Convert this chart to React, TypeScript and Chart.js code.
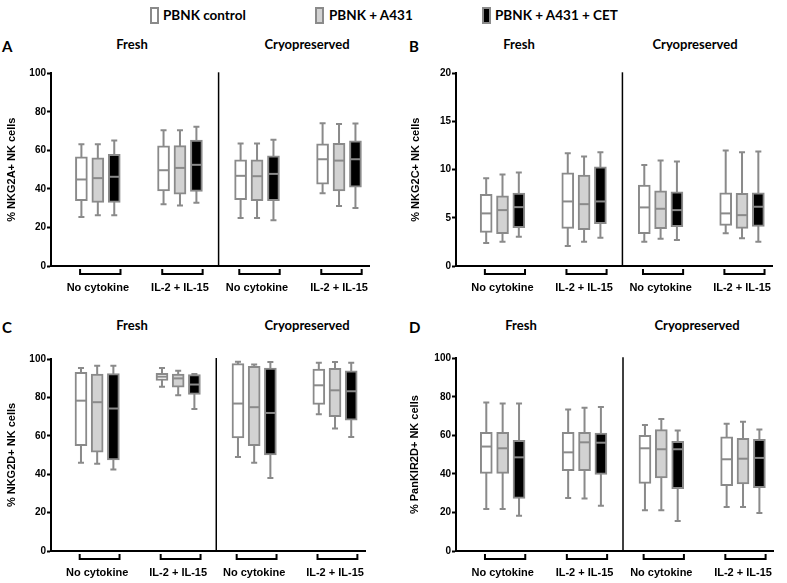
import React, { useEffect, useRef } from "react";
import { Chart, registerables } from "chart.js";
Chart.register(...registerables);

// ---------- data ----------
const groupLabels = ["No cytokine", "IL-2 + IL-15", "No cytokine", "IL-2 + IL-15"];
const seriesNames = ["PBNK control", "PBNK + A431", "PBNK + A431 + CET"];
const seriesFill = ["#ffffff", "#d2d2d2", "#000000"];
const sectionTitles = ["Fresh", "Cryopreserved"];

// Panel A – % NKG2A+ NK cells (order: Fresh NoCyt x3, Fresh IL2/15 x3, Cryo NoCyt x3, Cryo IL2/15 x3)
const nkg2aMin = [25.4, 26.4, 26.3, 32.1, 31.4, 32.8, 24.9, 24.9, 23.7, 37.8, 31.1, 30.1];
const nkg2aQ1 = [33.9, 33.0, 33.0, 39.0, 37.3, 38.7, 34.4, 33.9, 33.9, 42.5, 39.0, 40.9];
const nkg2aMed = [44.9, 45.6, 46.3, 49.7, 50.9, 52.5, 46.8, 46.6, 47.8, 55.4, 54.7, 55.4];
const nkg2aQ3 = [56.6, 56.1, 58.0, 62.3, 62.5, 65.3, 55.1, 55.1, 57.2, 63.4, 63.6, 64.9];
const nkg2aMax = [63.2, 63.2, 65.1, 70.5, 70.5, 72.2, 63.6, 63.6, 65.5, 74.1, 73.7, 73.9];

// Panel B – % NKG2C+ NK cells
const nkg2cMin = [2.38, 2.52, 3.04, 2.07, 2.52, 2.94, 2.52, 2.83, 2.69, 3.39, 2.87, 2.52];
const nkg2cQ1 = [3.49, 3.35, 3.97, 3.9, 3.77, 4.39, 3.35, 3.87, 4.08, 4.21, 3.9, 4.11];
const nkg2cMed = [5.46, 5.8, 6.11, 6.7, 6.42, 6.7, 6.08, 5.94, 5.8, 5.46, 5.28, 6.15];
const nkg2cQ3 = [7.43, 7.29, 7.56, 9.67, 9.43, 10.29, 8.39, 7.81, 7.7, 7.6, 7.53, 7.6];
const nkg2cMax = [9.12, 9.5, 9.71, 11.71, 11.36, 11.81, 10.47, 10.95, 10.85, 11.99, 11.81, 11.88];

// Panel C – % NKG2D+ NK cells
const nkg2dMin = [45.9, 45.4, 42.5, 85.6, 81.1, 74.0, 48.9, 45.9, 38.0, 71.2, 63.8, 59.4];
const nkg2dQ1 = [54.9, 51.5, 47.5, 88.8, 85.3, 81.5, 58.9, 54.9, 50.1, 76.4, 70.0, 68.1];
const nkg2dMed = [78.3, 77.5, 74.2, 90.8, 89.9, 86.7, 76.8, 74.9, 71.9, 86.3, 83.7, 83.2];
const nkg2dQ3 = [93.1, 92.2, 92.4, 92.5, 92.2, 91.9, 97.6, 96.2, 95.3, 94.8, 95.1, 93.9];
const nkg2dMax = [95.3, 96.5, 96.5, 95.3, 93.9, 92.2, 98.6, 97.1, 98.4, 98.1, 98.4, 98.1];

// Panel D – % PanKIR2D+ NK cells
const kirMin = [21.8, 21.8, 18.3, 27.5, 27.3, 23.5, 21.1, 21.1, 15.6, 22.8, 22.8, 19.7];
const kirQ1 = [40.3, 40.3, 27.3, 41.7, 41.7, 39.8, 35.1, 37.9, 32.4, 33.9, 34.8, 32.9];
const kirMed = [54.2, 53.3, 48.6, 51.2, 56.4, 56.2, 53.3, 52.8, 52.8, 47.6, 47.9, 48.3];
const kirQ3 = [61.6, 61.6, 57.4, 61.6, 61.6, 61.2, 60.0, 63.0, 56.9, 59.3, 58.5, 58.0];
const kirMax = [77.0, 76.6, 76.5, 73.4, 74.4, 74.7, 65.4, 68.5, 62.5, 66.1, 67.1, 63.0];

// ---------- layout constants ----------
const EDGE = "#8a8a8a";
const X_MAX = 19.4;
const groupCenters = [2.85, 7.85, 12.54, 17.53];
const boxOffsets = [-1, 0, 1];
const DIVIDER = 10.2;
const AXIS_FONT = "'Liberation Sans', Arial, sans-serif";
const HEAD_FONT = "Lato, 'Open Sans', sans-serif";

type PanelDef = {
  letter: string;
  yTitle: string;
  yMax: number;
  yStep: number;
  min: number[]; q1: number[]; med: number[]; q3: number[]; max: number[];
  left: number; top: number;
  areaLeft: number; areaTop: number; areaRight: number; areaBottom: number;
  titleCenterX: number;
  headY: number; letterX: number; freshX: number; cryoX: number;
};

const panels: PanelDef[] = [
  { letter: "A", yTitle: "% NKG2A+ NK cells", yMax: 100, yStep: 20,
    min: nkg2aMin, q1: nkg2aQ1, med: nkg2aMed, q3: nkg2aQ3, max: nkg2aMax,
    left: 0, top: 55, areaLeft: 51, areaTop: 73.3, areaRight: 382, areaBottom: 266.3,
    titleCenterX: 12, headY: 45, letterX: 2, freshX: 132, cryoX: 307 },
  { letter: "B", yTitle: "% NKG2C+ NK cells", yMax: 20, yStep: 5,
    min: nkg2cMin, q1: nkg2cQ1, med: nkg2cMed, q3: nkg2cQ3, max: nkg2cMax,
    left: 398, top: 55, areaLeft: 456, areaTop: 73.3, areaRight: 785, areaBottom: 266.3,
    titleCenterX: 416, headY: 45, letterX: 409, freshX: 519, cryoX: 695 },
  { letter: "C", yTitle: "% NKG2D+ NK cells", yMax: 100, yStep: 20,
    min: nkg2dMin, q1: nkg2dQ1, med: nkg2dMed, q3: nkg2dQ3, max: nkg2dMax,
    left: 0, top: 340, areaLeft: 51, areaTop: 359, areaRight: 378, areaBottom: 551.3,
    titleCenterX: 12, headY: 326, letterX: 2, freshX: 132, cryoX: 307 },
  { letter: "D", yTitle: "% PanKIR2D+ NK cells", yMax: 100, yStep: 20,
    min: kirMin, q1: kirQ1, med: kirMed, q3: kirQ3, max: kirMax,
    left: 398, top: 340, areaLeft: 456, areaTop: 358.3, areaRight: 786, areaBottom: 551,
    titleCenterX: 415, headY: 326, letterX: 409, freshX: 521, cryoX: 697 },
];

const X_AXIS_H = 30;
const PAD_R = 1;
const PAD_B = 2;

function BoxPanel({ p }: { p: PanelDef }) {
  const ref = useRef<HTMLCanvasElement | null>(null);
  const width = p.areaRight - p.left + PAD_R;
  const height = p.areaBottom - p.top + X_AXIS_H + PAD_B;

  useEffect(() => {
    if (!ref.current) return;
    const datasets = seriesNames.map((name, t) => ({
      label: name,
      data: groupCenters.map((gc, g) => ({ x: gc + boxOffsets[t], y: [p.q1[g * 3 + t], p.q3[g * 3 + t]] })),
      backgroundColor: seriesFill[t],
      borderColor: EDGE,
      borderWidth: 2,
      borderSkipped: false,
      barThickness: 12,
      grouped: false,
    }));

    const extras = {
      id: "boxExtras",
      beforeDatasetsDraw(chart: any) {
        const { ctx, scales } = chart;
        const xs = scales.x, ys = scales.y;
        ctx.save();
        ctx.strokeStyle = EDGE;
        ctx.lineWidth = 2;
        for (let g = 0; g < 4; g++) {
          for (let t = 0; t < 3; t++) {
            const i = g * 3 + t;
            const px = xs.getPixelForValue(groupCenters[g] + boxOffsets[t]);
            const yLo = ys.getPixelForValue(p.min[i]);
            const yHi = ys.getPixelForValue(p.max[i]);
            ctx.beginPath();
            ctx.moveTo(px, yHi);
            ctx.lineTo(px, yLo);
            ctx.moveTo(px - 3, yHi);
            ctx.lineTo(px + 3, yHi);
            ctx.moveTo(px - 3, yLo);
            ctx.lineTo(px + 3, yLo);
            ctx.stroke();
          }
        }
        ctx.restore();
      },
      afterDatasetsDraw(chart: any) {
        const { ctx, scales, chartArea } = chart;
        const xs = scales.x, ys = scales.y;
        ctx.save();
        // medians
        ctx.strokeStyle = EDGE;
        ctx.lineWidth = 2;
        for (let g = 0; g < 4; g++) {
          for (let t = 0; t < 3; t++) {
            const i = g * 3 + t;
            const px = xs.getPixelForValue(groupCenters[g] + boxOffsets[t]);
            const ym = ys.getPixelForValue(p.med[i]);
            ctx.beginPath();
            ctx.moveTo(px - 5, ym);
            ctx.lineTo(px + 5, ym);
            ctx.stroke();
          }
        }
        // divider between Fresh and Cryopreserved
        ctx.strokeStyle = "#000";
        ctx.lineWidth = 1.5;
        const dx = xs.getPixelForValue(DIVIDER);
        ctx.beginPath();
        ctx.moveTo(dx, chartArea.top - 1);
        ctx.lineTo(dx, chartArea.bottom);
        ctx.stroke();
        // brackets under each group
        ctx.lineWidth = 2;
        const y0 = chartArea.bottom + 3;
        const y1 = chartArea.bottom + 8;
        for (let g = 0; g < 4; g++) {
          const xl = xs.getPixelForValue(groupCenters[g] + 0.15 - 1.23);
          const xr = xs.getPixelForValue(groupCenters[g] + 0.15 + 1.23);
          ctx.beginPath();
          ctx.moveTo(xl, y0);
          ctx.lineTo(xl, y1);
          ctx.lineTo(xr, y1);
          ctx.lineTo(xr, y0);
          ctx.stroke();
        }
        ctx.restore();
      },
    };

    const chart = new Chart(ref.current, {
      type: "bar",
      data: { datasets: datasets as any },
      options: {
        animation: false,
        responsive: false,
        devicePixelRatio: 1,
        layout: { padding: { left: 0, top: p.areaTop - p.top, right: PAD_R, bottom: PAD_B } },
        plugins: { legend: { display: false }, tooltip: { enabled: false } },
        scales: {
          x: {
            type: "linear",
            min: 0,
            max: X_MAX,
            offset: false,
            afterBuildTicks: (scale: any) => {
              scale.ticks = groupCenters.map((v) => ({ value: v }));
            },
            afterFit: (scale: any) => {
              scale.height = X_AXIS_H;
            },
            grid: { display: false, drawTicks: false, offset: false },
            border: { display: true, color: "#000", width: 2 },
            ticks: {
              autoSkip: false,
              maxRotation: 0,
              padding: 15,
              color: "#000",
              font: { family: AXIS_FONT, size: 11, weight: "bold" },
              callback: (_v: any, i: number) => groupLabels[i],
            },
          },
          y: {
            type: "linear",
            min: 0,
            max: p.yMax,
            afterFit: (scale: any) => {
              scale.width = p.areaLeft - p.left;
            },
            grid: {
              display: true,
              drawOnChartArea: false,
              drawTicks: true,
              tickLength: 4,
              tickColor: "#000",
              tickWidth: 2,
            },
            border: { display: true, color: "#000", width: 2 },
            ticks: {
              stepSize: p.yStep,
              padding: 1,
              color: "#000",
              font: { family: AXIS_FONT, size: 10, weight: "bold" },
            },
            title: {
              display: true,
              text: p.yTitle,
              color: "#000",
              font: { family: AXIS_FONT, size: 11, weight: "bold" },
              padding: { top: p.titleCenterX - p.left - 6.6, bottom: 0 },
            },
          },
        },
      } as any,
      plugins: [extras],
    });
    return () => chart.destroy();
  }, [p]);

  return (
    <canvas
      ref={ref}
      width={width}
      height={height}
      style={{ position: "absolute", left: p.left, top: p.top, width, height }}
    />
  );
}

const headStyle: React.CSSProperties = {
  position: "absolute",
  fontFamily: HEAD_FONT,
  fontWeight: 700,
  fontSize: 13,
  color: "#000",
  whiteSpace: "nowrap",
  lineHeight: "16px",
};

function Legend() {
  const items = [
    { sq: 150, tx: 163 },
    { sq: 315, tx: 329 },
    { sq: 482, tx: 495 },
  ];
  return (
    <>
      {items.map((it, i) => (
        <React.Fragment key={i}>
          <div
            style={{
              position: "absolute",
              left: it.sq,
              top: 7,
              width: 9,
              height: 17,
              boxSizing: "border-box",
              border: `2px solid ${EDGE}`,
              background: seriesFill[i],
            }}
          />
          <div style={{ ...headStyle, left: it.tx, top: 7, fontSize: 13.5 }}>{seriesNames[i]}</div>
        </React.Fragment>
      ))}
    </>
  );
}

export default function App() {
  return (
    <div
      style={{
        position: "absolute",
        left: 0,
        top: 0,
        width: 787,
        height: 583,
        overflow: "hidden",
        background: "#fff",
      }}
    >
      <Legend />
      {panels.map((p) => (
        <React.Fragment key={p.letter}>
          <div style={{ ...headStyle, left: p.letterX, top: p.headY - 7, fontSize: 15 }}>{p.letter}</div>
          <div style={{ ...headStyle, left: p.freshX, top: p.headY - 9, transform: "translateX(-50%)" }}>
            {sectionTitles[0]}
          </div>
          <div style={{ ...headStyle, left: p.cryoX, top: p.headY - 9, transform: "translateX(-50%)" }}>
            {sectionTitles[1]}
          </div>
          <BoxPanel p={p} />
        </React.Fragment>
      ))}
    </div>
  );
}
